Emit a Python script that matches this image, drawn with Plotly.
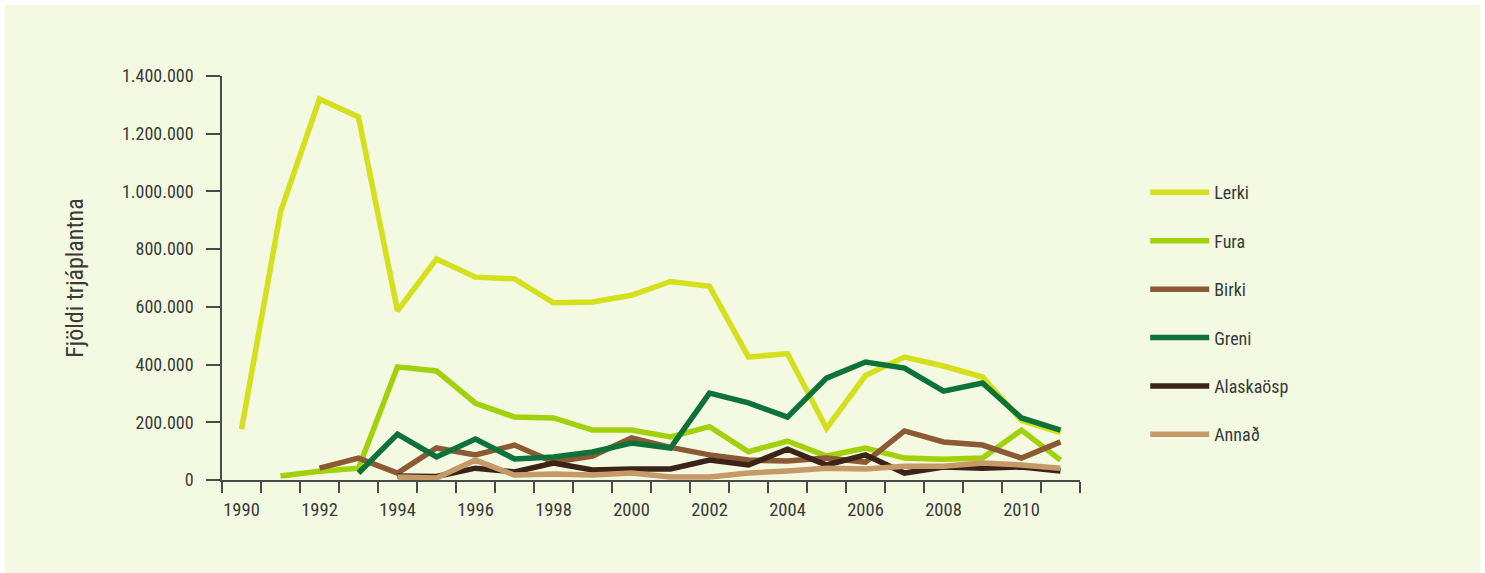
import plotly.graph_objects as go

years = list(range(1990, 2012))
lerki = [176000, 929000, 1320000, 1258000, 586000, 766000, 703000, 697000, 614000, 617000, 640000,
         688000, 671000, 426000, 438000, 179000, 362000, 426000, 395000, 357000, 206000, 164000]
fura = [None, 14000, 30000, 41000, 392000, 378000, 266000, 218000, 215000, 173000, 173000,
        149000, 185000, 98000, 135000, 83000, 111000, 76000, 72000, 76000, 173000, 69000]
birki = [None, None, 41000, 76000, 24000, 111000, 87000, 121000, 62000, 83000, 146000,
         113000, 87000, 69000, 66000, 76000, 62000, 170000, 132000, 121000, 76000, 132000]
greni = [None, None, None, 24000, 159000, 80000, 142000, 73000, 80000, 97000, 128000,
         111000, 301000, 267000, 218000, 353000, 409000, 388000, 308000, 336000, 215000, 173000]
alaskaosp = [None, None, None, None, 14000, 12000, 41000, 28000, 59000, 35000, 38000,
             38000, 69000, 52000, 107000, 52000, 87000, 24000, 45000, 41000, 45000, 31000]
annad = [None, None, None, None, 10000, 7000, 69000, 17000, 21000, 17000, 24000,
         10000, 10000, 24000, 31000, 41000, 38000, 48000, 48000, 59000, 52000, 41000]

series_names = ["Lerki", "Fura", "Birki", "Greni", "Alaskaösp", "Annað"]
series_values = [lerki, fura, birki, greni, alaskaosp, annad]
series_colors = ["#d4e01c", "#a2d10a", "#8b5a35", "#0c7238", "#3b2417", "#c59a68"]

x_tick_labels = [str(y) for y in range(1990, 2012, 2)]
x_tick_vals = list(range(1990, 2012, 2))
x_boundaries = [y - 0.5 for y in range(1990, 2013)]
y_tick_vals = list(range(0, 1400001, 200000))

FONT = "Liberation Sans Narrow, Roboto Condensed, Arial Narrow, sans-serif"
AXIS = "#4a4a48"
TEXT = "#3a3a38"

fig = go.Figure()
for i, (name, vals, col) in enumerate(zip(series_names, series_values, series_colors)):
    fig.add_trace(go.Scatter(
        x=years, y=vals, name=name, mode="lines",
        line=dict(color=col, width=5.5),
        connectgaps=False, legendgroup=f"g{i}",
    ))

fig.update_layout(
    width=1485, height=573,
    margin=dict(l=217, r=410, t=71, b=98),
    paper_bgcolor="#f4f9e1", plot_bgcolor="#f4f9e1",
    separators=",.",
    font=dict(family=FONT, size=18, color=TEXT),
    showlegend=True,
    legend=dict(
        x=1.076, xanchor="left", y=0.757, yanchor="top",
        bgcolor="rgba(0,0,0,0)", font=dict(size=18, color=TEXT),
        tracegroupgap=22, itemwidth=59,
    ),
    xaxis=dict(
        range=[1989.5, 2011.5], showgrid=False, zeroline=False,
        showline=True, linecolor=AXIS, linewidth=1.5,
        tickvals=x_tick_vals, ticktext=x_tick_labels,
        ticks="outside", ticklen=12, tickcolor="rgba(0,0,0,0)",
        minor=dict(tickvals=x_boundaries, ticks="outside", ticklen=11,
                   tickcolor=AXIS, tickwidth=1.5, showgrid=False),
        tickfont=dict(size=18.5, color=TEXT),
    ),
    yaxis=dict(
        range=[0, 1400000], showgrid=False, zeroline=False,
        showline=True, linecolor=AXIS, linewidth=1.5,
        tickvals=y_tick_vals, tickformat=",d",
        ticks="outside", ticklen=14, tickcolor=AXIS, tickwidth=1.5,
        ticklabelstandoff=9,
        tickfont=dict(size=18, color=TEXT),
        title=dict(text="Fjöldi trjáplantna", font=dict(size=24, color=TEXT), standoff=32),
    ),
)

fig.write_html("out.html", post_script="document.body.style.margin='5px';")
